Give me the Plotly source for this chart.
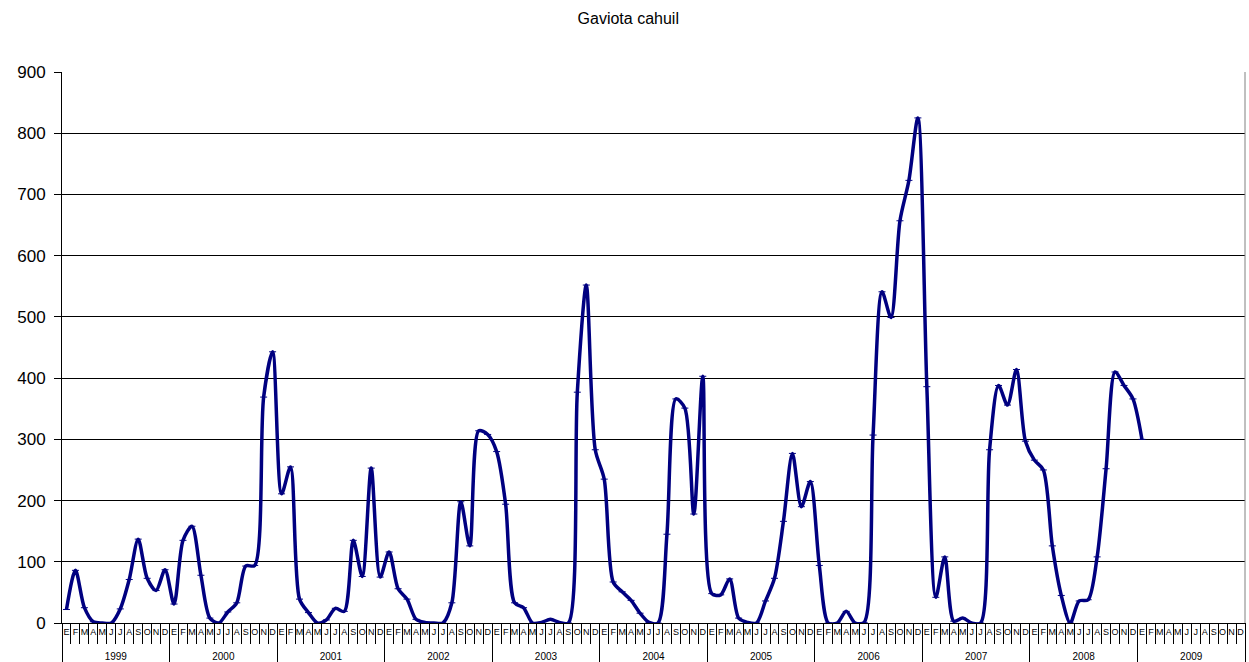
import plotly.graph_objects as go

years = ["1999", "2000", "2001", "2002", "2003", "2004", "2005", "2006", "2007", "2008", "2009"]
months = ["E", "F", "M", "A", "M", "J", "J", "A", "S", "O", "N", "D"]

v1999 = [22, 86, 25, 2, 0, 0, 23, 71, 137, 73, 53, 87]
v2000 = [31, 135, 158, 78, 8, 0, 18, 33, 93, 94, 369, 443]
v2001 = [211, 255, 39, 17, 0, 5, 24, 19, 135, 76, 253, 75]
v2002 = [116, 56, 39, 6, 1, 0, 0, 33, 198, 126, 314, 308]
v2003 = [280, 194, 33, 25, 0, 1, 6, 1, 0, 377, 552, 283]
v2004 = [235, 67, 51, 37, 16, 1, 0, 145, 366, 351, 178, 403]
v2005 = [48, 46, 72, 8, 1, 0, 36, 73, 166, 277, 190, 231]
v2006 = [94, 0, 0, 19, 0, 1, 307, 541, 499, 657, 723, 825]
v2007 = [386, 42, 108, 3, 8, 0, 0, 283, 388, 356, 414, 297]
v2008 = [266, 250, 126, 45, 0, 36, 38, 108, 252, 410, 388, 366]
v2009 = [300]

values = v1999 + v2000 + v2001 + v2002 + v2003 + v2004 + v2005 + v2006 + v2007 + v2008 + v2009

n_cat = len(years) * len(months)
x_idx = list(range(len(values)))
month_text = months * len(years)
year_pos = [i * len(months) + (len(months) - 1) / 2 for i in range(len(years))]

H = 662
plot_bottom = 623
top = 72
dom0 = (H - plot_bottom) / (H - top)

fig = go.Figure()
fig.add_trace(go.Scatter(
    x=x_idx, y=values,
    mode="lines+markers",
    line=dict(color="#000080", width=3.5, shape="spline", smoothing=0.8),
    marker=dict(symbol="line-ew-open", size=5, color="#000080",
                line=dict(color="#000080", width=1)),
    showlegend=False, hoverinfo="x+y",
))
# helper trace so the year axis is drawn (no visible marks)
fig.add_trace(go.Scatter(
    x=year_pos, y=[0] * len(year_pos), xaxis="x2", yaxis="y",
    mode="none", showlegend=False, hoverinfo="skip",
))

fig.update_layout(
    width=1249, height=H,
    margin=dict(l=62, r=4, t=top, b=0, autoexpand=False),
    paper_bgcolor="white", plot_bgcolor="white",
    font=dict(family="Liberation Sans, Arial, sans-serif", color="black"),
    title=dict(text="Gaviota cahuil", x=0.503, xanchor="center",
               y=1 - 18 / H, yanchor="middle", yref="container",
               font=dict(size=16, color="black")),
    xaxis=dict(
        range=[-0.5, n_cat - 0.5], tickmode="array", automargin=False,
        tickvals=list(range(n_cat)), ticktext=month_text, tickangle=0,
        tickfont=dict(size=9), ticks="", showgrid=False, zeroline=False,
        showline=True, linecolor="black", linewidth=1, mirror=False,
        minor=dict(tickmode="linear", tick0=-0.5, dtick=1, ticks="outside",
                   ticklen=20, tickcolor="black", tickwidth=1, showgrid=False),
        fixedrange=True,
    ),
    xaxis2=dict(
        overlaying="x", anchor="free", position=0, side="top", automargin=False,
        range=[-0.5, n_cat - 0.5], tickmode="array",
        tickvals=year_pos, ticktext=years, tickangle=0,
        tickfont=dict(size=10), ticks="", showgrid=False, zeroline=False,
        showline=False,
        minor=dict(tickmode="linear", tick0=-0.5, dtick=12, ticks="outside",
                   ticklen=39, tickcolor="black", tickwidth=1, showgrid=False),
        fixedrange=True,
    ),
    yaxis=dict(
        domain=[dom0, 1], automargin=False,
        range=[0, 900], dtick=100, tickfont=dict(size=17),
        showgrid=True, gridcolor="black", gridwidth=1,
        showline=True, linecolor="black", linewidth=1,
        ticks="outside", ticklen=7, tickcolor="black", ticklabelstandoff=5,
        zeroline=False, fixedrange=True,
    ),
    shapes=[dict(type="line", xref="paper", yref="paper", x0=1, x1=1, y0=dom0, y1=1,
                 line=dict(color="#808080", width=1))],
)

fig.write_html("out.html", config={"displayModeBar": False},
               post_script="document.body.style.margin='0px';document.body.style.padding='0px';")
